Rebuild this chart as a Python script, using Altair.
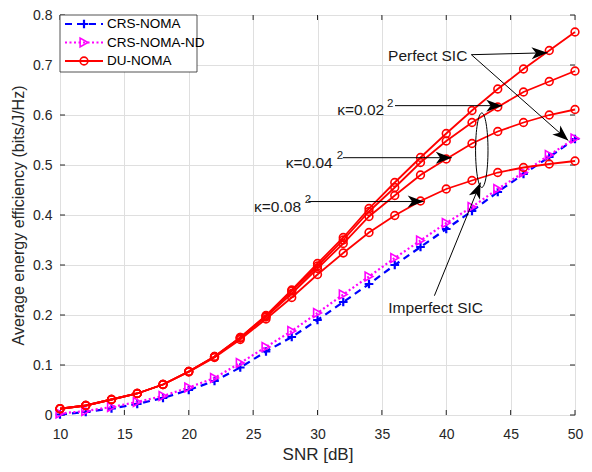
import math
import altair as alt
import pandas as pd

# ---------------- data ----------------
snr = [10, 12, 14, 16, 18, 20, 22, 24, 26, 28, 30, 32, 34, 36, 38, 40, 42, 44, 46, 48, 50]

crs_noma = [0.001, 0.006, 0.013, 0.022, 0.034, 0.050, 0.068, 0.095, 0.127, 0.156, 0.190,
            0.226, 0.262, 0.300, 0.336, 0.372, 0.408, 0.446, 0.482, 0.516, 0.552]
crs_noma_nd = [0.003, 0.008, 0.016, 0.026, 0.038, 0.055, 0.074, 0.104, 0.136, 0.168, 0.204,
               0.241, 0.277, 0.314, 0.349, 0.384, 0.416, 0.452, 0.485, 0.520, 0.553]
du_perfect = [0.0125, 0.019, 0.031, 0.043, 0.061, 0.087, 0.117, 0.155, 0.199, 0.250, 0.303,
              0.355, 0.413, 0.465, 0.515, 0.563, 0.609, 0.652, 0.692, 0.729, 0.766]
du_k002 = [0.0125, 0.019, 0.031, 0.043, 0.061, 0.087, 0.117, 0.155, 0.198, 0.248, 0.298,
           0.350, 0.407, 0.455, 0.505, 0.548, 0.585, 0.616, 0.646, 0.667, 0.688]
du_k004 = [0.0125, 0.019, 0.031, 0.043, 0.061, 0.087, 0.116, 0.154, 0.196, 0.243, 0.293,
           0.343, 0.397, 0.439, 0.480, 0.512, 0.543, 0.567, 0.585, 0.600, 0.611]
du_k008 = [0.0125, 0.019, 0.031, 0.043, 0.061, 0.086, 0.115, 0.151, 0.192, 0.235, 0.281,
           0.324, 0.365, 0.399, 0.428, 0.452, 0.469, 0.485, 0.495, 0.502, 0.508]

legend_labels = ["CRS-NOMA", "CRS-NOMA-ND", "DU-NOMA"]
x_ticks = [10, 15, 20, 25, 30, 35, 40, 45, 50]
y_ticks = [0, 0.1, 0.2, 0.3, 0.4, 0.5, 0.6, 0.7, 0.8]

# annotations (data coordinates)
ann_labels = ["Perfect SIC", "Imperfect SIC"]
ann_snr = [38.56, 39.18]
ann_val = [0.7186, 0.2138]
kappa_labels = ["\u03ba=0.02", "\u03ba=0.04", "\u03ba=0.08"]
kappa_snr = [35.18, 31.18, 28.72]
kappa_val = [0.610, 0.505, 0.417]
sup_snr = [35.40, 31.50, 29.00]
sup_val = [0.623, 0.518, 0.430]
arrow_from_snr = [41.95, 41.95, 36.02, 31.97, 29.28, 39.08]
arrow_from_val = [0.7206, 0.7206, 0.6187, 0.5146, 0.4269, 0.2386]
arrow_to_snr = [47.87, 49.48, 44.35, 40.43, 38.25, 42.66]
arrow_to_val = [0.7245, 0.549, 0.6187, 0.5146, 0.4269, 0.4647]
ellipse_snr = [42.76]
ellipse_val = [0.5296]

# ---------------- layout ----------------
W, H = 515, 400
FONT = "Liberation Sans"
AX = "#262626"
px_per_snr = W / 40.0
px_per_val = H / 0.8

xax = alt.Axis(values=x_ticks, grid=True, gridColor="#dfdfdf", gridWidth=1, ticks=False, tickSize=0,
               domain=False, labelFlush=False, labelFont=FONT, labelFontSize=14, labelColor=AX,
               labelPadding=12, title="SNR [dB]", titleFont=FONT, titleFontSize=17,
               titleFontWeight="normal", titleColor=AX, titlePadding=5)
yax = alt.Axis(values=y_ticks, format=".1~f", grid=True, gridColor="#dfdfdf", gridWidth=1, ticks=False,
               tickSize=0, domain=False, labelFlush=False, labelFont=FONT, labelFontSize=14,
               labelColor=AX, labelPadding=8,
               title="Average energy efficiency (bits/J/Hz)", titleFont=FONT, titleFontSize=16,
               titleFontWeight="normal", titleColor=AX, titlePadding=6)
X = alt.X("snr:Q", scale=alt.Scale(domain=[10, 50], nice=False, zero=False), axis=xax)
Y = alt.Y("value:Q", scale=alt.Scale(domain=[0, 0.8], nice=False), axis=yax)

df_crs = pd.DataFrame({"snr": snr, "value": crs_noma})
df_nd = pd.DataFrame({"snr": snr, "value": crs_noma_nd})
du_rows = []
for name, vals in [("p", du_perfect), ("k1", du_k002), ("k2", du_k004), ("k3", du_k008)]:
    for s, v in zip(snr, vals):
        du_rows.append({"snr": s, "value": v, "curve": name})
df_du = pd.DataFrame(du_rows)

PLUS = "M-1,0L1,0M0,-1L0,1"
BLUE, MAG, RED = "#0000ff", "#ff00ff", "#ff0000"

layers = []
# inner ticks on all four sides
df_xt = pd.DataFrame({"snr": x_ticks})
df_yt = pd.DataFrame({"value": y_ticks})
layers.append(alt.Chart(df_xt).mark_rule(color=AX, strokeWidth=1).encode(x=X, y=alt.value(H), y2=alt.value(H - 5)))
layers.append(alt.Chart(df_xt).mark_rule(color=AX, strokeWidth=1).encode(x=X, y=alt.value(0), y2=alt.value(5)))
layers.append(alt.Chart(df_yt).mark_rule(color=AX, strokeWidth=1).encode(y=Y, x=alt.value(0), x2=alt.value(5)))
layers.append(alt.Chart(df_yt).mark_rule(color=AX, strokeWidth=1).encode(y=Y, x=alt.value(W), x2=alt.value(W - 5)))

# series
layers.append(alt.Chart(df_crs).mark_line(color=BLUE, strokeWidth=2.2, strokeDash=[7, 5]).encode(x=X, y=Y))
layers.append(alt.Chart(df_crs).mark_point(shape=PLUS, filled=False, color=BLUE, strokeWidth=2.2, size=75, opacity=1).encode(x=X, y=Y))
layers.append(alt.Chart(df_nd).mark_line(color=MAG, strokeWidth=2.2, strokeDash=[2, 2.5]).encode(x=X, y=Y))
layers.append(alt.Chart(df_nd).mark_point(shape="triangle-right", filled=False, color=MAG, strokeWidth=1.6, size=80, opacity=1).encode(x=X, y=Y))
layers.append(alt.Chart(df_du).mark_line(color=RED, strokeWidth=1.8).encode(x=X, y=Y, detail="curve:N"))
layers.append(alt.Chart(df_du).mark_point(shape="circle", filled=False, color=RED, strokeWidth=1.6, size=60, opacity=1).encode(x=X, y=Y, detail="curve:N"))

# annotations
df_arr = pd.DataFrame({"snr": arrow_from_snr, "value": arrow_from_val,
                       "snr2": arrow_to_snr, "value2": arrow_to_val})
angles = []
for s0, v0, s1, v1 in zip(arrow_from_snr, arrow_from_val, arrow_to_snr, arrow_to_val):
    dx = (s1 - s0) * px_per_snr
    dy = -(v1 - v0) * px_per_val
    angles.append((math.degrees(math.atan2(dy, dx)) + 360) % 360)
df_head = pd.DataFrame({"snr": arrow_to_snr, "value": arrow_to_val, "angle": angles})
HEAD = "M0,0L-2,-0.75L-1.45,0L-2,0.75Z"
layers.append(alt.Chart(df_arr).mark_rule(color="black", strokeWidth=1).encode(
    x=X, y=Y, x2=alt.X2("snr2:Q"), y2=alt.Y2("value2:Q")))
layers.append(alt.Chart(df_head).mark_point(shape=HEAD, filled=True, color="black", size=256, opacity=1,
                                            strokeWidth=0).encode(
    x=X, y=Y, angle=alt.Angle("angle:Q", scale=None)))

a = 0.1667
k = 0.5523 * a
ELL = (f"M0,-1C{k:.4f},-1 {a:.4f},-0.5523 {a:.4f},0C{a:.4f},0.5523 {k:.4f},1 0,1"
       f"C{-k:.4f},1 {-a:.4f},0.5523 {-a:.4f},0C{-a:.4f},-0.5523 {-k:.4f},-1 0,-1Z")
df_ell = pd.DataFrame({"snr": ellipse_snr, "value": ellipse_val})
layers.append(alt.Chart(df_ell).mark_point(shape=ELL, filled=False, color="black", strokeWidth=1,
                                           size=5550, opacity=1).encode(x=X, y=Y))

df_ann = pd.DataFrame({"snr": ann_snr, "value": ann_val, "label": ann_labels})
layers.append(alt.Chart(df_ann).mark_text(font=FONT, fontSize=15.5, color="#1a1a1a", align="center",
                                          baseline="middle").encode(x=X, y=Y, text="label:N"))
df_k = pd.DataFrame({"snr": kappa_snr, "value": kappa_val, "label": kappa_labels})
layers.append(alt.Chart(df_k).mark_text(font=FONT, fontSize=15.5, color="#1a1a1a", align="right",
                                        baseline="middle").encode(x=X, y=Y, text="label:N"))
df_sup = pd.DataFrame({"snr": sup_snr, "value": sup_val, "label": ["2", "2", "2"]})
layers.append(alt.Chart(df_sup).mark_text(font=FONT, fontSize=11.5, color="#1a1a1a", align="left",
                                          baseline="middle").encode(x=X, y=Y, text="label:N"))

# manual legend
one = pd.DataFrame({"label": [""]})
layers.append(alt.Chart(one).mark_rect(fill="white", stroke=AX, strokeWidth=0.8).encode(
    x=alt.value(0), x2=alt.value(137), y=alt.value(0), y2=alt.value(57)))
rows_y = [9, 27.5, 46]
styles = [
    dict(color=BLUE, dash=[7, 5], shape=PLUS, psize=75, pw=2.2),
    dict(color=MAG, dash=[2, 2.5], shape="triangle-right", psize=80, pw=1.6),
    dict(color=RED, dash=None, shape="circle", psize=60, pw=1.6),
]
for lab, ry, st in zip(legend_labels, rows_y, styles):
    dl = pd.DataFrame({"label": [lab]})
    rule_kw = dict(color=st["color"], strokeWidth=2.2 if st["dash"] else 1.8)
    if st["dash"]:
        rule_kw["strokeDash"] = st["dash"]
    layers.append(alt.Chart(dl).mark_rule(**rule_kw).encode(x=alt.value(5), x2=alt.value(43), y=alt.value(ry)))
    layers.append(alt.Chart(dl).mark_point(shape=st["shape"], filled=False, color=st["color"],
                                           strokeWidth=st["pw"], size=st["psize"], opacity=1).encode(
        x=alt.value(24), y=alt.value(ry)))
    layers.append(alt.Chart(dl).mark_text(font=FONT, fontSize=13.5, color="black", align="left",
                                          baseline="middle").encode(x=alt.value(47), y=alt.value(ry), text="label:N"))

chart = alt.layer(*layers).properties(
    width=W, height=H,
    padding={"left": 52, "top": 7, "right": 9, "bottom": 49},
    autosize=alt.AutoSizeParams(type="none"),
).configure_view(stroke=AX, strokeWidth=1).configure(background="white")

chart.save("out.html", embed_options={"renderer": "svg", "actions": False})
